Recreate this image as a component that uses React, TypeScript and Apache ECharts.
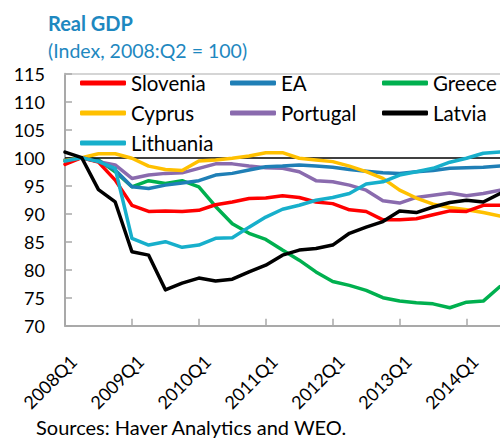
import React, { useEffect, useRef } from "react";
import * as echarts from "echarts";

const quarters: string[] = [];
for (let y = 2008; y <= 2014; y++) {
  for (let q = 1; q <= 4; q++) {
    if (y === 2014 && q > 3) break;
    quarters.push(`${y}Q${q}`);
  }
}

const slovenia = [98.8, 100, 99.2, 96.0, 91.5, 90.4, 90.5, 90.4, 90.6, 91.6, 92.1, 92.7, 92.8, 93.2, 92.9, 92.1, 91.8, 90.7, 90.4, 88.9, 88.9, 89.1, 89.8, 90.5, 90.4, 91.5, 91.5];
const ea = [99.6, 100, 99.4, 97.8, 94.8, 94.5, 95.1, 95.5, 95.9, 96.9, 97.2, 97.8, 98.4, 98.5, 98.7, 98.5, 98.3, 97.9, 97.6, 97.3, 97.2, 97.5, 97.7, 98.1, 98.2, 98.3, 98.5];
const greece = [99.4, 100, 99.6, 97.5, 94.8, 95.9, 95.4, 95.9, 94.8, 91.3, 88.2, 86.5, 85.4, 83.5, 81.7, 79.6, 77.9, 77.2, 76.3, 75.0, 74.4, 74.1, 73.9, 73.2, 74.2, 74.4, 77.0];
const cyprus = [99.5, 100, 100.7, 100.7, 99.9, 98.5, 97.9, 97.7, 99.4, 99.6, 99.9, 100.3, 100.9, 100.9, 99.9, 99.6, 99.3, 98.5, 97.5, 96.3, 94.2, 92.8, 91.7, 91.1, 90.7, 90.2, 89.6];
const portugal = [99.6, 100, 99.3, 98.7, 96.3, 96.9, 97.2, 97.3, 98.1, 98.9, 98.9, 98.5, 98.2, 98.1, 97.5, 95.9, 95.7, 95.1, 94.2, 92.3, 91.9, 92.9, 93.3, 93.7, 93.2, 93.6, 94.2];
const latvia = [101.0, 100, 94.3, 92.1, 83.2, 82.6, 76.4, 77.6, 78.5, 78.0, 78.3, 79.6, 80.8, 82.6, 83.5, 83.8, 84.4, 86.5, 87.6, 88.6, 90.5, 90.2, 91.2, 92.0, 92.4, 92.1, 93.6];
const lithuania = [99.4, 100, 99.3, 98.1, 85.6, 84.4, 85.0, 84.0, 84.4, 85.6, 85.7, 87.6, 89.4, 90.8, 91.5, 92.4, 92.9, 93.6, 95.3, 95.7, 96.9, 97.5, 98.1, 99.2, 99.9, 100.8, 101.0];

const seriesNames = ["Slovenia", "EA", "Greece", "Cyprus", "Portugal", "Latvia", "Lithuania"];
const seriesData = [slovenia, ea, greece, cyprus, portugal, latvia, lithuania];
const seriesColors = ["#FF0000", "#1F7FB6", "#00B04F", "#FFC000", "#8A6BAE", "#000000", "#17AFCB"];

const legendColumns = [
  ["Slovenia", "Cyprus", "Lithuania"],
  ["EA", "Portugal"],
  ["Greece", "Latvia"],
];
const legendLefts = [80, 230, 382];

const FONT = "Lato";

export default function App() {
  const ref = useRef<HTMLDivElement>(null);
  useEffect(() => {
    if (!ref.current) return;
    const chart = echarts.init(ref.current, undefined, { renderer: "svg" });
    const drawOrder = [2, 4, 1, 3, 0, 6, 5];
    chart.setOption({
      animation: false,
      backgroundColor: "#FFFFFF",
      graphic: [
        {
          type: "text",
          left: 48,
          top: 13,
          style: { text: "Real GDP", font: `bold 20px ${FONT}`, fill: "#1E88C0" },
        },
        {
          type: "text",
          left: 48,
          top: 40,
          style: { text: "(Index, 2008:Q2 = 100)", font: `19.5px ${FONT}`, fill: "#1E88C0" },
        },
        {
          type: "text",
          left: 36,
          top: 417,
          style: { text: "Sources: Haver Analytics and WEO.", font: `20px ${FONT}`, fill: "#000000" },
        },
      ],
      legend: legendColumns.map((col, i) => ({
        data: col,
        orient: "vertical",
        left: legendLefts[i],
        top: 72,
        icon: "roundRect",
        itemWidth: 46,
        itemHeight: 5,
        itemGap: 8,
        padding: 0,
        textStyle: { fontFamily: FONT, fontSize: 20.5, color: "#000", lineHeight: 22 },
      })),
      grid: { left: 65, right: 0, top: 73.7, bottom: 113.3 },
      xAxis: [
        {
          type: "category",
          data: quarters,
          boundaryGap: false,
          axisLine: { lineStyle: { color: "#A9A9A9", width: 2 } },
          axisTick: { inside: true, length: 7, interval: 3, lineStyle: { color: "#A9A9A9", width: 1.5 } },
          axisLabel: {
            interval: 3,
            rotate: 45,
            margin: 24,
            verticalAlign: "top",
            padding: [3, 0, 0, 0],
            fontFamily: FONT,
            fontSize: 18,
            color: "#000",
          },
        },
        {
          type: "category",
          data: quarters,
          boundaryGap: false,
          position: "top",
          axisLine: { lineStyle: { color: "#C8C8C8", width: 1.5 } },
          axisTick: { show: false },
          axisLabel: { show: false },
        },
      ],
      yAxis: {
        type: "value",
        min: 70,
        max: 115,
        interval: 5,
        axisLine: { show: true, lineStyle: { color: "#A9A9A9", width: 2 } },
        axisTick: { show: true, inside: true, length: 7, lineStyle: { color: "#A9A9A9", width: 1.5 } },
        splitLine: { show: false },
        axisLabel: { margin: 20, fontFamily: FONT, fontSize: 18, color: "#000" },
      },
      series: drawOrder.map((idx, k) => ({
        type: "line",
        name: seriesNames[idx],
        data: seriesData[idx],
        symbol: "none",
        color: seriesColors[idx],
        lineStyle: { width: 3.5, color: seriesColors[idx], cap: "round", join: "round" },
        z: 2 + k,
        ...(k === 0
          ? {
              markLine: {
                silent: true,
                symbol: "none",
                label: { show: false },
                lineStyle: { color: "#000", width: 1.5, type: "solid" },
                data: [{ yAxis: 100 }],
              },
            }
          : {}),
      })),
    });
    return () => chart.dispose();
  }, []);
  return <div ref={ref} style={{ width: 500, height: 439, position: "absolute", left: 0, top: 0 }} />;
}
